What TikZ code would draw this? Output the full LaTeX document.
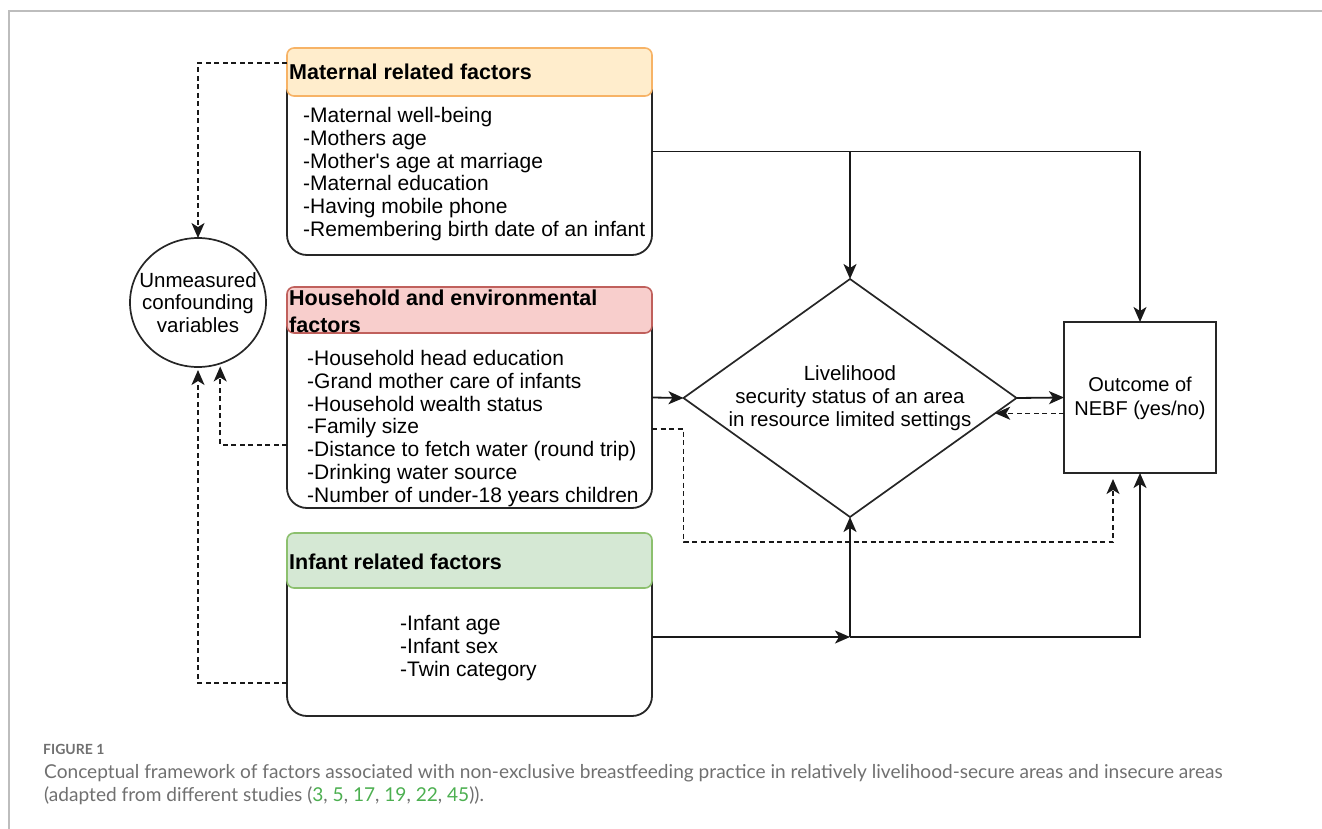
\documentclass[tikz,border=0pt]{standalone}
\usepackage{fontspec}
\setmainfont{Liberation Sans}
\newfontfamily\capfont{Lato}
\usetikzlibrary{shapes.geometric,arrows.meta}
\definecolor{matfill}{HTML}{FFEDCC}
\definecolor{matdraw}{HTML}{F7B366}
\definecolor{hhfill}{HTML}{F8CECC}
\definecolor{hhdraw}{HTML}{C0605C}
\definecolor{inffill}{HTML}{D5E8D4}
\definecolor{infdraw}{HTML}{8CC06E}
\definecolor{frameg}{HTML}{BDBDBD}
\definecolor{capgray}{HTML}{707070}
\definecolor{refgreen}{HTML}{4CAF50}
\begin{document}
\begin{tikzpicture}[x=1pt,y=-1pt,
  body/.style={draw=black!85, line width=1.8pt, rounded corners=20pt, minimum width=365pt, inner sep=0pt, outer sep=0pt, fill=white},
  head/.style={rounded corners=7pt, line width=1.6pt, minimum width=365pt, inner sep=0pt, outer sep=0pt},
  headtxt/.style={anchor=west, inner sep=0pt, align=left, font=\fontsize{21.5}{27}\selectfont\bfseries},
  items/.style={anchor=west, inner sep=0pt, align=left, font=\fontsize{21}{22.8}\selectfont},
  ctxt/.style={inner sep=0pt, align=center, font=\fontsize{20.5}{23}\selectfont},
  arr/.style={draw=black!90, line width=1.8pt, -{Stealth[length=15pt,width=13pt,inset=4pt]}},
  dasharr/.style={arr, dash pattern=on 5pt off 3.5pt, line width=1.5pt},
  capt/.style={anchor=base west, inner sep=0pt, text=capgray, font=\capfont\fontsize{19.1}{23}\selectfont}
]
\useasboundingbox (0,0) rectangle (1322,829);
% frame
\draw[frameg, line width=1.6pt] (9,829) -- (9,11) -- (1322,11);

% maternal box
\node[body, minimum height=207pt] (mat) at (469.5,151.5) {};
\node[head, fill=matfill, draw=matdraw, minimum height=48pt] (mathead) at (469.5,72) {};
\node[headtxt] (mattitle) at (289,72) {Maternal related factors};
\node[items] (matitems) at (303,174) {-Maternal well-being\\-Mothers age\\-Mother\textquotesingle s age at marriage\\-Maternal education\\-Having mobile phone\\-Remembering birth date of an infant};

% household box
\node[body, minimum height=221pt] (hh) at (469.5,397.5) {};
\node[head, fill=hhfill, draw=hhdraw, minimum height=46pt] (hhhead) at (469.5,310) {};
\node[headtxt] (hhtitle) at (289,311.5) {Household and environmental\\factors};
\node[items] (hhitems) at (307,428.5) {-Household head education\\-Grand mother care of infants\\-Household wealth status\\-Family size\\-Distance to fetch water (round trip)\\-Drinking water source\\-Number of under-18 years children};

% infant box
\node[body, minimum height=183pt] (inf) at (469.5,624.5) {};
\node[head, fill=inffill, draw=infdraw, minimum height=55pt] (infhead) at (469.5,560.5) {};
\node[headtxt] (inftitle) at (289,562) {Infant related factors};
\node[items] (infitems) at (400,648) {-Infant age\\-Infant sex\\-Twin category};

% confounders
\node[ellipse, draw=black!85, line width=1.7pt, minimum width=136pt, minimum height=129pt, inner sep=0pt, outer sep=0pt] (unm) at (198,302.5) {};
\node[ctxt, font=\fontsize{20.5}{22.5}\selectfont] (unmtxt) at (198,302.5) {Unmeasured\\confounding\\variables};

% diamond
\node[diamond, draw=black!85, line width=1.7pt, minimum width=333pt, minimum height=238pt, inner sep=0pt, outer sep=0pt] (dia) at (850,398) {};
\node[ctxt] (diatxt) at (850,398) {Livelihood\\security status of an area\\in resource limited settings};

% outcome
\node[draw=black!85, line width=1.7pt, minimum width=152pt, minimum height=151pt, inner sep=0pt, outer sep=0pt] (nebf) at (1140,397.5) {};
\node[ctxt, font=\fontsize{20}{24}\selectfont] (nebftxt) at (1140,398) {Outcome of\\NEBF (yes/no)};

% connectors
\draw[dasharr] (mat.west |- 0,63) -| (unm.north);
\coordinate (jtop) at (dia.north |- mat.east);
\draw[arr] (mat.east) -| (nebf.north);
\draw[arr] (jtop) -- (dia.north);
\draw[arr] (hh.east) -- (dia.west);
\draw[dasharr, shorten >=6pt] (hh.east |- 0,429) -| (dia.west |- 0,542) -| ([xshift=-27pt]nebf.south);
\draw[arr] (dia.east) -- (nebf.west);
\draw[dasharr] (nebf.west |- dia.-6.3) -- (dia.-6.3);
\draw[dasharr, shorten >=3pt] (hh.west |- 0,445) -| (unm.-70);
\draw[dasharr, shorten >=3pt] (inf.west |- 0,683) -| (unm.south);
\coordinate (jbot) at (dia.south |- 0,637);
\draw[arr] (inf.east |- 0,637) -- (jbot);
\draw[arr] (jbot) -- (dia.south);
\draw[arr] (jbot) -| (nebf.south);

% caption
\node[capt, font=\capfont\bfseries\fontsize{14}{16}\selectfont] (figlab) at (43,754) {FIGURE 1};
\node[capt] (cap1) at (44,778) {Conceptual framework of factors associated with non-exclusive breastfeeding practice in relatively livelihood-secure areas and insecure areas};
\node[capt] (cap2) at (44,801) {(adapted from different studies (\textcolor{refgreen}{3}, \textcolor{refgreen}{5}, \textcolor{refgreen}{17}, \textcolor{refgreen}{19}, \textcolor{refgreen}{22}, \textcolor{refgreen}{45})).};
\end{tikzpicture}
\end{document}
